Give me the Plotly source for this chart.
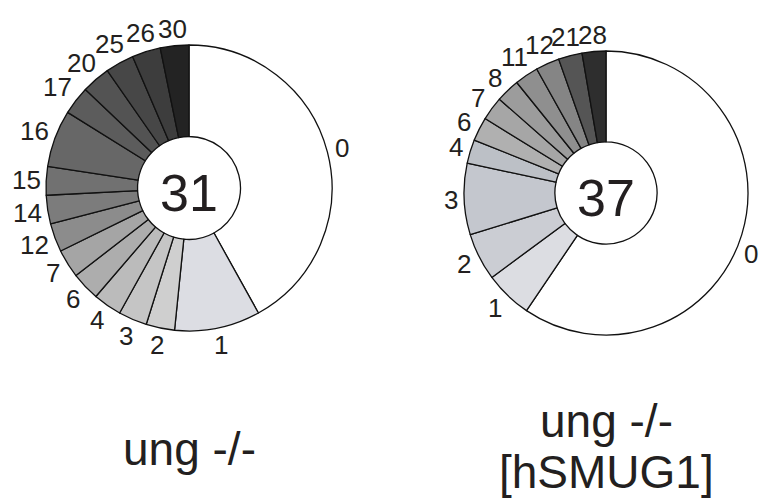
import math
import plotly.graph_objects as go

W, H = 759, 499

# Left chart: ung -/-
left_labels = ["0", "1", "2", "3", "4", "6", "7", "12", "14", "15", "16", "17", "20", "25", "26", "30"]
left_values = [13, 3, 1, 1, 1, 1, 1, 1, 1, 1, 2, 1, 1, 1, 1, 1]
left_colors = ["#ffffff", "#dcdde3", "#cfcfcf", "#c5c5c5", "#bbbbbb", "#adadad", "#a5a5a5",
               "#8c8c8c", "#7c7c7c", "#717171", "#676767", "#5c5c5c", "#535353", "#474747",
               "#3d3d3d", "#232323"]

# Right chart: ung -/- [hSMUG1]
right_labels = ["0", "1", "2", "3", "4", "6", "7", "8", "11", "12", "21", "28"]
right_values = [22, 2, 2, 3, 1, 1, 1, 1, 1, 1, 1, 1]
right_colors = ["#ffffff", "#dcdde2", "#cbcdd3", "#c4c7ce", "#bcc0c6", "#b0b0b0", "#a6a6a6",
                "#9c9c9c", "#8f8f8f", "#858585", "#555555", "#2e2e2e"]

left_name = "ung -/-"
right_name = ["ung -/-", "[hSMUG1]"]

FONT = "Liberation Sans, Arial, sans-serif"
TXT = "#231f20"
LABEL_SIZE = 26


def dom(cx, cy, r):
    return dict(x=[(cx - r) / W, (cx + r) / W], y=[1 - (cy + r) / H, 1 - (cy - r) / H])


fig = go.Figure()
pies = [
    (left_labels, left_values, left_colors, (189, 188, 143)),
    (right_labels, right_values, right_colors, (606, 193, 142)),
]
for labels, values, colors, (cx, cy, r) in pies:
    fig.add_trace(go.Pie(
        labels=labels, values=values, sort=False, direction="clockwise", rotation=0,
        hole=0.36, domain=dom(cx, cy, r),
        marker=dict(colors=colors, line=dict(color="#111111", width=1.3)),
        textinfo="none",
        title=dict(text=str(sum(values)), position="middle center",
                   font=dict(family=FONT, size=52, color=TXT)),
        showlegend=False, hoverinfo="label+value",
    ))
    # slice labels just outside the ring, at each slice's mid-angle
    total = float(sum(values))
    cum = 0.0
    for lab, v in zip(labels, values):
        mid = (cum + v / 2.0) / total * 2 * math.pi
        cum += v
        s, c = math.sin(mid), math.cos(mid)
        half_w = 0.26 * LABEL_SIZE * len(lab)
        half_h = 0.38 * LABEL_SIZE
        dist = r + 6 + abs(s) * half_w + abs(c) * half_h
        px = cx + dist * s
        py = cy - dist * c
        xmax = W - half_w - 1
        if px > xmax:
            # slide the label along the ring until it fits inside the figure
            ang = math.asin(min(1.0, (xmax - cx) / dist))
            if c < 0:
                ang = math.pi - ang
            px = cx + dist * math.sin(ang)
            py = cy - dist * math.cos(ang)
        fig.add_annotation(text=lab, x=px / W, y=1 - py / H, xref="paper", yref="paper",
                           xanchor="center", yanchor="middle", showarrow=False,
                           font=dict(family=FONT, size=LABEL_SIZE, color=TXT))

ann = [
    dict(text=left_name, x=189 / W, y=1 - 449 / H),
    dict(text=right_name[0], x=606 / W, y=1 - 421 / H),
    dict(text=right_name[1], x=606 / W, y=1 - 472 / H),
]
for a in ann:
    fig.add_annotation(xref="paper", yref="paper", xanchor="center", yanchor="middle",
                       showarrow=False, font=dict(family=FONT, size=46, color=TXT), **a)

fig.update_layout(width=W, height=H, margin=dict(l=0, r=0, t=0, b=0),
                  paper_bgcolor="white", plot_bgcolor="white")
fig.write_html("out.html", config={"displayModeBar": False},
               post_script="document.body.style.margin='0';")
